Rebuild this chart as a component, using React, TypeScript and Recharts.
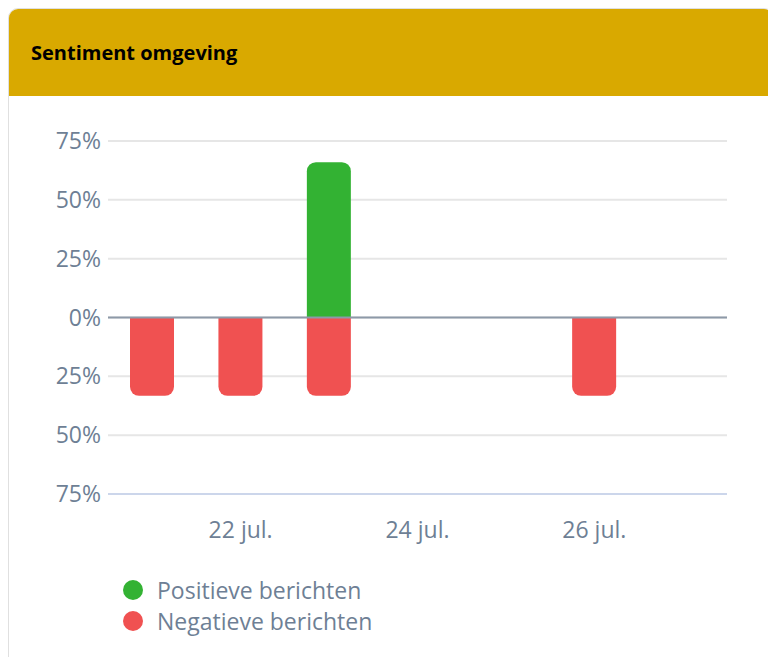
import { Bar, BarChart, CartesianGrid, Legend, ReferenceLine, XAxis, YAxis } from 'recharts'

const days = ['21 jul.', '22 jul.', '23 jul.', '24 jul.', '25 jul.', '26 jul.', '27 jul.']
const positive = [0, 0, 66, 0, 0, 0, 0]
const negative = [-33.3, -33.3, -33.3, 0, 0, -33.3, 0]
const dayTicks = ['22 jul.', '24 jul.', '26 jul.']
const percentTicks = [-75, -50, -25, 0, 25, 50, 75]

const GREEN = '#33b233'
const RED = '#f05151'
const TEXT = '#6e7f95'

const data = days.map((day, i) => ({
  day,
  pos: positive[i],
  neg: negative[i]
}))

function SentimentLegend() {
  const items = [
    { label: 'Positieve berichten', color: GREEN },
    { label: 'Negatieve berichten', color: RED }
  ]
  return (
    <div style={{ paddingLeft: 114, fontFamily: 'Open Sans', fontSize: 23, color: TEXT }}>
      {items.map(item => (
        <div key={item.label} style={{ display: 'flex', alignItems: 'center', height: 31 }}>
          <span
            style={{
              width: 20,
              height: 20,
              borderRadius: 10,
              background: item.color,
              marginRight: 14
            }}
          />
          {item.label}
        </div>
      ))}
    </div>
  )
}

export default function App() {
  return (
    <div
      style={{
        width: 764,
        height: 660,
        border: '1px solid #e0e0e0',
        borderRadius: 10,
        overflow: 'hidden',
        background: '#fff'
      }}
    >
      <div
        style={{
          height: 87,
          background: '#d9a900',
          display: 'flex',
          alignItems: 'center',
          paddingLeft: 22,
          fontFamily: 'Open Sans',
          fontWeight: 700,
          fontSize: 20,
          color: '#000'
        }}
      >
        Sentiment omgeving
      </div>
      <BarChart
        width={764}
        height={540}
        data={data}
        stackOffset="sign"
        margin={{ top: 45, right: 46, left: 0, bottom: 0 }}
      >
        <CartesianGrid vertical={false} stroke="#e6e6e6" strokeWidth={2} />
        <XAxis
          dataKey="day"
          ticks={dayTicks}
          tickLine={false}
          axisLine={{ stroke: '#ccd6eb', strokeWidth: 2 }}
          tickMargin={22}
          height={80}
          tick={{ fill: TEXT, fontSize: 23, fontFamily: 'Open Sans' }}
        />
        <YAxis
          domain={[-75, 75]}
          ticks={percentTicks}
          tickFormatter={v => `${Math.abs(v)}%`}
          axisLine={false}
          tickLine={false}
          width={99}
          tickMargin={1}
          tick={{ fill: TEXT, fontSize: 23, fontFamily: 'Open Sans' }}
        />
        <Bar
          dataKey="pos"
          name="Positieve berichten"
          stackId="s"
          fill={GREEN}
          barSize={44}
          radius={[9, 9, 0, 0]}
          isAnimationActive={false}
        />
        <Bar
          dataKey="neg"
          name="Negatieve berichten"
          stackId="s"
          fill={RED}
          barSize={44}
          radius={[9, 9, 0, 0]}
          isAnimationActive={false}
        />
        <ReferenceLine y={0} stroke="#8d99a8" strokeWidth={2} />
        <Legend verticalAlign="bottom" align="left" content={<SentimentLegend />} />
      </BarChart>
    </div>
  )
}
